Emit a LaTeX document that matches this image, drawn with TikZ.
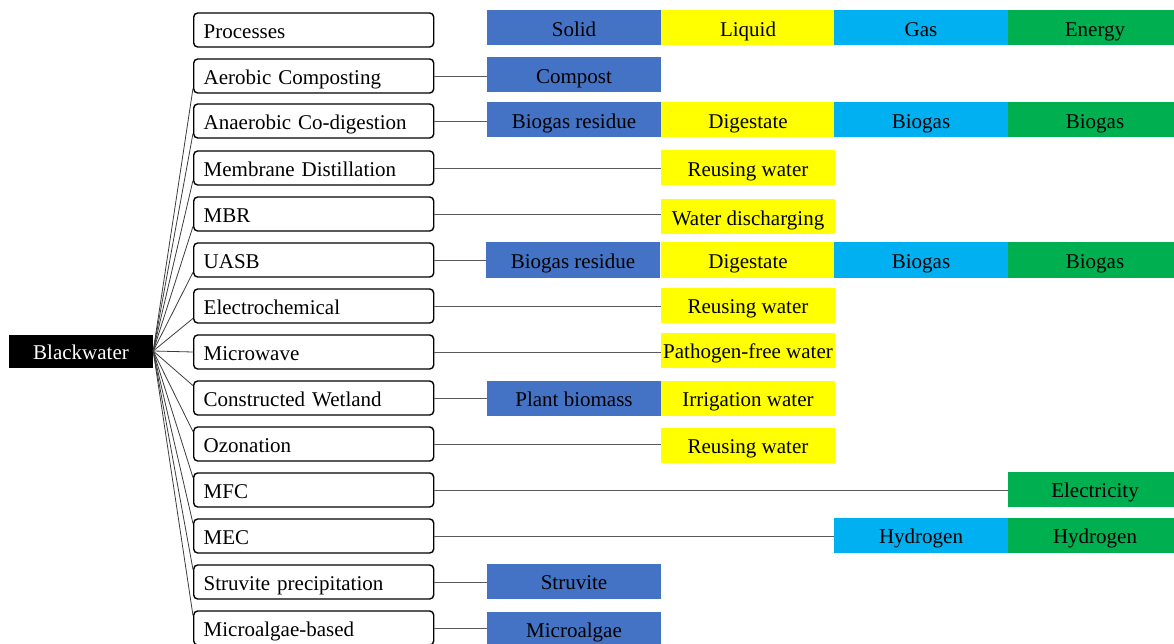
\documentclass[tikz,border=0pt]{standalone}
\usepackage{fontspec}
\setmainfont{Liberation Serif}
\usetikzlibrary{calc}
\begin{document}
\begin{tikzpicture}[x=1pt,y=-1pt,
  proc/.style={draw=black,line width=1.4pt,rounded corners=4pt,anchor=west,
    minimum height=34pt,text width=220pt,inner xsep=10pt,inner ysep=0pt,align=left,
    text height=18pt,text depth=1pt,
    font=\fontsize{21}{24}\selectfont},
  cell/.style={minimum width=174pt,minimum height=35pt,inner sep=0pt,
    text height=18pt,text depth=1pt,
    font=\fontsize{21}{24}\selectfont},
  sol/.style={cell,fill={rgb,255:red,68;green,114;blue,196}},
  liq/.style={cell,fill={rgb,255:red,255;green,255;blue,0}},
  gas/.style={cell,fill={rgb,255:red,0;green,176;blue,240}},
  ene/.style={cell,fill={rgb,255:red,0;green,176;blue,80}},
  link/.style={draw={rgb,255:red,90;green,90;blue,90},line width=0.9pt},
  fan/.style={draw={rgb,255:red,60;green,60;blue,60},line width=0.8pt}]
\useasboundingbox (0,0) rectangle (1174,644);
\clip (0,0) rectangle (1174,644);
% root
\node[fill=black,text=white,minimum width=144pt,minimum height=33pt,inner sep=0pt,
  text height=18pt,text depth=1pt,
  font=\fontsize{21}{24}\selectfont] (bw) at (81,351) {Blackwater};
% process boxes
\node[proc] (p0) at (193,30) {Processes};
\node[proc] (p1) at (193,76) {Aerobic Composting};
\node[proc] (p2) at (193,121) {Anaerobic Co-digestion};
\node[proc] (p3) at (193,168) {Membrane Distillation};
\node[proc] (p4) at (193,214) {MBR};
\node[proc] (p5) at (193,260) {UASB};
\node[proc] (p6) at (193,306) {Electrochemical};
\node[proc] (p7) at (193,352) {Microwave};
\node[proc] (p8) at (193,398) {Constructed Wetland};
\node[proc] (p9) at (193,444) {Ozonation};
\node[proc] (p10) at (193,490) {MFC};
\node[proc] (p11) at (193,536) {MEC};
\node[proc] (p12) at (193,582) {Struvite precipitation};
\node[proc] (p13) at (193,628) {Microalgae-based};
% header
\node[sol] (h1) at (574,28) {Solid};
\node[liq] (h2) at (748,28) {Liquid};
\node[gas] (h3) at (921,28) {Gas};
\node[ene] (h4) at (1095,28) {Energy};
% outputs
\node[sol] (c1) at (574,75) {Compost};
\node[sol] (a1) at (574,120) {Biogas residue};
\node[liq] (a2) at (748,120) {Digestate};
\node[gas] (a3) at (921,120) {Biogas};
\node[ene] (a4) at (1095,120) {Biogas};
\node[liq] (m1) at (748,168) {Reusing water};
\node[liq] (b1) at (748,217) {Water discharging};
\node[sol] (u1) at (573,260) {Biogas residue};
\node[liq] (u2) at (748,260) {Digestate};
\node[gas] (u3) at (921,260) {Biogas};
\node[ene] (u4) at (1095,260) {Biogas};
\node[liq] (e1) at (748,305) {Reusing water};
\node[liq] (w1) at (748,350) {Pathogen-free water};
\node[sol] (k1) at (574,398) {Plant biomass};
\node[liq] (k2) at (748,398) {Irrigation water};
\node[liq] (o1) at (748,445) {Reusing water};
\node[ene] (f1) at (1095,489) {Electricity};
\node[gas] (x1) at (921,535) {Hydrogen};
\node[ene] (x2) at (1095,535) {Hydrogen};
\node[sol] (s1) at (574,581) {Struvite};
\node[sol] (g1) at (574,629) {Microalgae};
% process to output links
\draw[link] (p1.east) -- (p1.east -| c1.west);
\draw[link] (p2.east) -- (p2.east -| a1.west);
\draw[link] (p3.east) -- (p3.east -| m1.west);
\draw[link] (p4.east) -- (p4.east -| b1.west);
\draw[link] (p5.east) -- (p5.east -| u1.west);
\draw[link] (p6.east) -- (p6.east -| e1.west);
\draw[link] (p7.east) -- (p7.east -| w1.west);
\draw[link] (p8.east) -- (p8.east -| k1.west);
\draw[link] (p9.east) -- (p9.east -| o1.west);
\draw[link] (p10.east) -- (p10.east -| f1.west);
\draw[link] (p11.east) -- (p11.east -| x1.west);
\draw[link] (p12.east) -- (p12.east -| s1.west);
\draw[link] (p13.east) -- (p13.east -| g1.west);
% fan from Blackwater
\foreach \p in {p1,p2,p3,p4,p5,p6}
  \draw[fan] (bw.east) -- ($(\p.west)!0.7!(\p.south west)$);
\draw[fan] (bw.east) -- (p7.west);
\foreach \p in {p8,p9,p10,p11,p12,p13}
  \draw[fan] (bw.east) -- ($(\p.west)!0.7!(\p.north west)$);
\end{tikzpicture}
\end{document}
